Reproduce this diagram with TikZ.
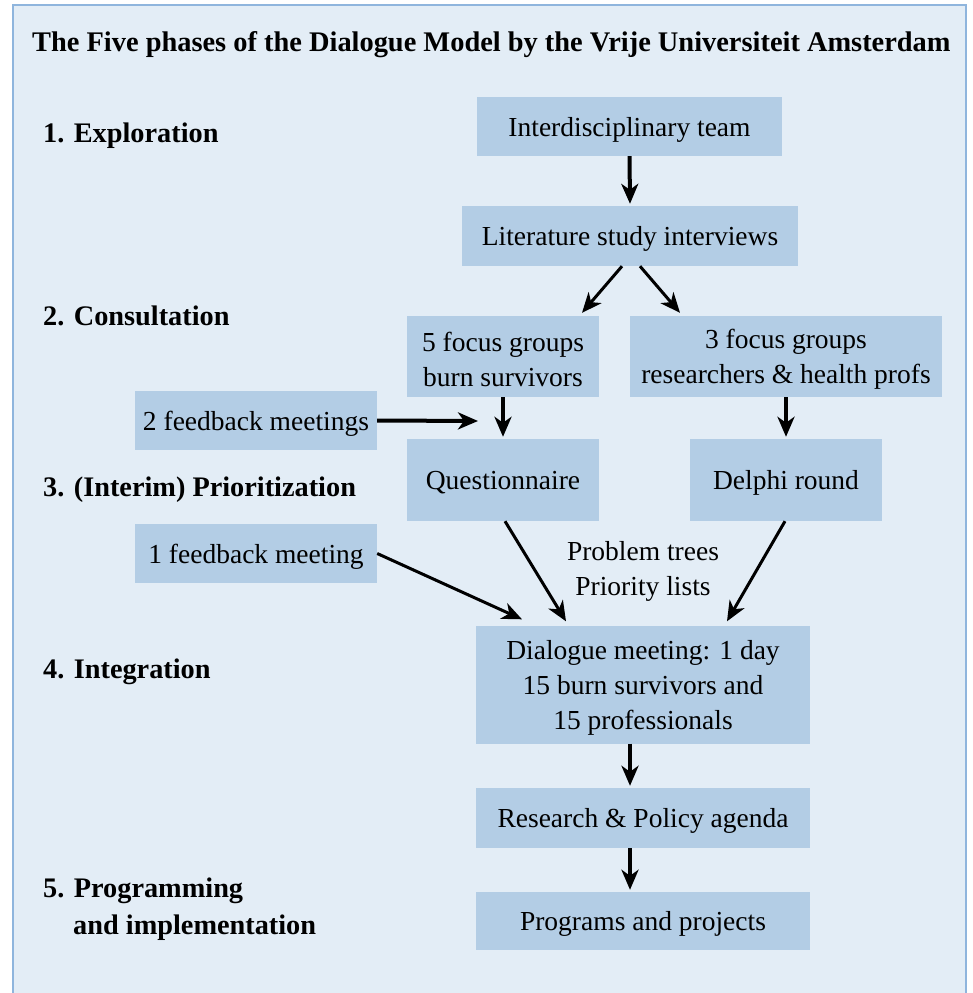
\documentclass[tikz,border=0pt]{standalone}
\usepackage{fontspec}
\setmainfont{Liberation Serif}
\usetikzlibrary{arrows.meta,calc}
\definecolor{bgblue}{HTML}{E3EDF6}
\definecolor{boxblue}{HTML}{B3CDE5}
\definecolor{frameblue}{HTML}{8FB5DD}
\newcommand\mybodyfont{\fontsize{27.5}{35}\selectfont}
\newcommand\myphasefont{\fontsize{28.3}{37}\selectfont\bfseries}
\newcommand\mytitlefont{\fontsize{28.4}{32}\selectfont\bfseries}
\begin{document}
\begin{tikzpicture}[x=1pt,y=-1pt,
  plain/.style={inner sep=0pt, align=center, font=\mybodyfont,
    execute at begin node={\rule{0pt}{25pt}},
    execute at end node={\rule[-6pt]{0pt}{6pt}}},
  box/.style={plain, fill=boxblue},
  boxshape/.style={fill=boxblue, inner sep=0pt},
  mtext/.style={inner sep=0pt, align=center, font=\mybodyfont, yshift=-3pt},
  phase/.style={anchor=base west, inner sep=0pt, font=\myphasefont},
  arr/.style={-{Stealth[length=20pt,width=17pt,inset=6pt]}, line width=3pt},
  varr/.style={arr, line width=4pt}]
\useasboundingbox (0,0) rectangle (973,993);
\fill[white] (0,0) rectangle (973,993);
\begin{scope}
\clip (0,0) rectangle (973,993);
\draw[frameblue, line width=2.5pt, fill=bgblue] (13,5) rectangle (966,1010);
\end{scope}
% title
\node[anchor=base west, inner sep=0pt, font=\mytitlefont] (title) at (32,51)
  {The Five phases of the Dialogue Model by the Vrije Universiteit Amsterdam};
% phases
\node[phase] (p1) at (43,142) {1. Exploration};
\node[phase] (p2) at (43,325) {2. Consultation};
\node[phase] (p3) at (43,496) {3. (Interim) Prioritization};
\node[phase] (p4) at (43,678) {4. Integration};
\node[phase] (p5) at (43,897) {5. Programming};
\node[phase] (p5b) at (73,934) {and implementation};
% boxes
\node[box, minimum width=305pt, minimum height=59pt] (team) at (629.5,126.5) {Interdisciplinary team};
\node[box, minimum width=336pt, minimum height=60pt] (lit) at (630,236) {Literature study interviews};
\node[boxshape, minimum width=192pt, minimum height=81pt] (fg5) at (503,356.5) {};
\node[mtext] (fg5t) at (fg5.center) {5 focus groups\\burn survivors};
\node[boxshape, minimum width=312pt, minimum height=81pt] (fg3) at (786,356.5) {};
\node[mtext] (fg3t) at (fg3.center) {3 focus groups\\researchers \& health profs};
\node[box, minimum width=242pt, minimum height=59pt] (fb2) at (256,420.5) {2 feedback meetings};
\node[box, minimum width=192pt, minimum height=82pt] (quest) at (503,480) {Questionnaire};
\node[box, minimum width=192pt, minimum height=82pt] (delphi) at (786,480) {Delphi round};
\node[box, minimum width=242pt, minimum height=59pt] (fb1) at (256,553.5) {1 feedback meeting};
\node[mtext] (trees) at (643,568) {Problem trees\\Priority lists};
\node[boxshape, minimum width=334pt, minimum height=118pt] (dial) at (643,684.5) {};
\node[mtext] (dialt) at (dial.center) {Dialogue meeting: 1 day\\15 burn survivors and\\15 professionals};
\node[box, minimum width=334pt, minimum height=60pt] (agenda) at (643,818) {Research \& Policy agenda};
\node[box, minimum width=334pt, minimum height=58pt] (prog) at (643,921) {Programs and projects};
\coordinate (fb2end) at (478,421);
% connectors
\draw[varr] (team.south) -- ([yshift=2pt]lit.north);
\draw[arr] ([xshift=-8pt]lit.south) -- ([xshift=79pt,yshift=3pt]fg5.north);
\draw[arr] ([xshift=10pt]lit.south) -- ([xshift=-106pt,yshift=3pt]fg3.north);
\draw[varr] (fg5.south) -- ([yshift=2pt]quest.north);
\draw[varr] (fg3.south) -- ([yshift=2pt]delphi.north);
\draw[varr] (fb2.east) -- (fb2end);
\draw[arr] ([xshift=2pt]quest.south) -- ([xshift=-77pt,yshift=4pt]dial.north);
\draw[arr] ([xshift=-1pt]delphi.south) -- ([xshift=84pt,yshift=4pt]dial.north);
\draw[arr] (fb1.east) -- ([xshift=-121pt,yshift=6pt]dial.north);
\draw[varr] ([xshift=-13pt]dial.south) -- ([xshift=-13pt,yshift=2pt]agenda.north);
\draw[varr] ([xshift=-13pt]agenda.south) -- ([xshift=-13pt,yshift=2pt]prog.north);
\end{tikzpicture}
\end{document}
